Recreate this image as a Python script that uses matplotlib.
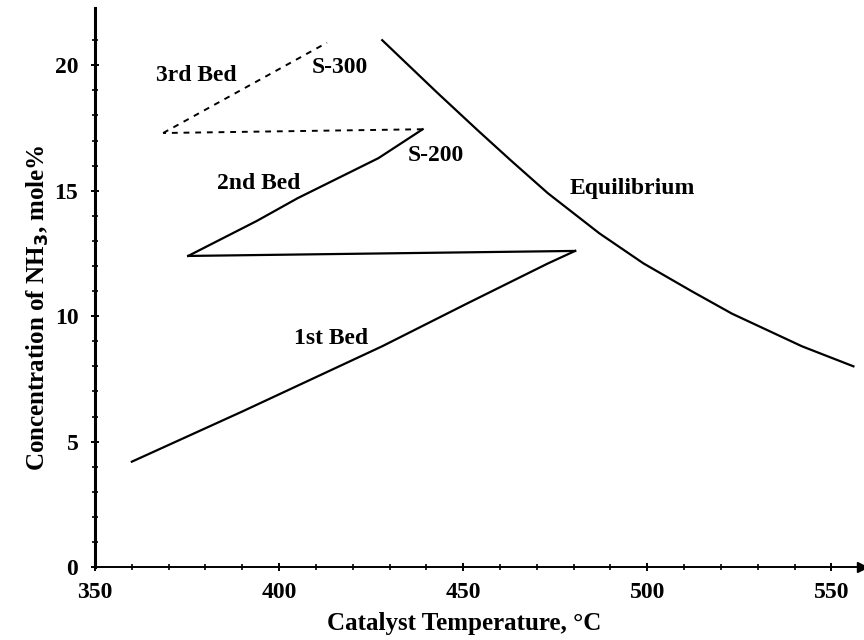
import matplotlib
matplotlib.use("Agg")
import matplotlib.pyplot as plt
import numpy as np

# values
eq_temp = [428, 433, 443, 454, 463, 473, 487, 499, 512, 523, 542, 556]
eq_conc = [21.0, 20.3, 18.9, 17.4, 16.2, 14.9, 13.3, 12.1, 11.0, 10.1, 8.8, 8.0]

bed1_temp = [360, 390, 428, 451, 473, 480.4]
bed1_conc = [4.2, 6.2, 8.8, 10.5, 12.1, 12.6]

quench1_temp = [480.4, 375.3]
quench1_conc = [12.6, 12.4]

bed2_temp = [375.3, 394, 405, 427, 439]
bed2_conc = [12.4, 13.8, 14.7, 16.3, 17.45]

quench2_temp = [439, 368.5]
quench2_conc = [17.45, 17.3]

bed3_temp = [368.5, 413]
bed3_conc = [17.3, 20.9]

labels = ["3rd Bed", "S-300", "S-200", "2nd Bed", "Equilibrium", "1st Bed"]
label_temp = [377.5, 416.5, 442.5, 394.5, 496, 414]
label_conc = [19.6, 19.9, 16.4, 15.3, 15.1, 9.1]

plt.rcParams['font.family'] = ['Liberation Serif', 'DejaVu Serif']
plt.rcParams['font.weight'] = 'bold'

fig = plt.figure(figsize=(8.64, 6.4), dpi=100)
ax = fig.add_axes([0.110, 0.114, 0.888, 0.873])

ax.plot(eq_temp, eq_conc, color='black', lw=1.6)
ax.plot(bed1_temp, bed1_conc, color='black', lw=1.6)
ax.plot(quench1_temp, quench1_conc, color='black', lw=1.6)
ax.plot(bed2_temp, bed2_conc, color='black', lw=1.6)
ax.plot(quench2_temp, quench2_conc, color='black', lw=1.4, ls=(0, (3, 3)))
ax.plot(bed3_temp, bed3_conc, color='black', lw=1.4, ls=(0, (3, 3)))

for txt, t, c in zip(labels, label_temp, label_conc):
    ax.text(t, c, txt, fontsize=17, fontweight='bold', ha='center', va='center')

ax.set_xlim(350, 558.4)
ax.set_ylim(0, 22.27)

ax.spines['top'].set_visible(False)
ax.spines['right'].set_visible(False)
ax.spines['left'].set_linewidth(2.2)
ax.spines['bottom'].set_linewidth(1.4)

# arrow heads at the end of the axes
ax.plot(1, 0, '>k', ms=7, transform=ax.get_yaxis_transform(), clip_on=False)
ax.plot(0, 1, '^k', ms=7, transform=ax.get_xaxis_transform(), clip_on=False)

ax.set_xticks(np.arange(350, 551, 50))
ax.set_xticks(np.arange(350, 556, 10), minor=True)
ax.set_yticks(np.arange(0, 21, 5))
ax.set_yticks(np.arange(0, 22, 1), minor=True)
ax.tick_params(which='major', direction='inout', length=6, width=1.4, labelsize=17)
ax.tick_params(which='minor', direction='inout', length=4, width=1.2)
ax.tick_params(axis='x', which='major', pad=8)
ax.tick_params(axis='y', which='major', pad=9)
for lab in ax.get_xticklabels() + ax.get_yticklabels():
    lab.set_fontweight('bold')

ax.set_xlabel('Catalyst Temperature, °C', fontsize=18, fontweight='bold')
ax.set_ylabel('Concentration of NH$_3$, mole%', fontsize=18, fontweight='bold')
ax.xaxis.set_label_coords(0.481, -0.080)
ax.yaxis.set_label_coords(-0.058, 0.465)

fig.savefig('out.png', dpi=100)
